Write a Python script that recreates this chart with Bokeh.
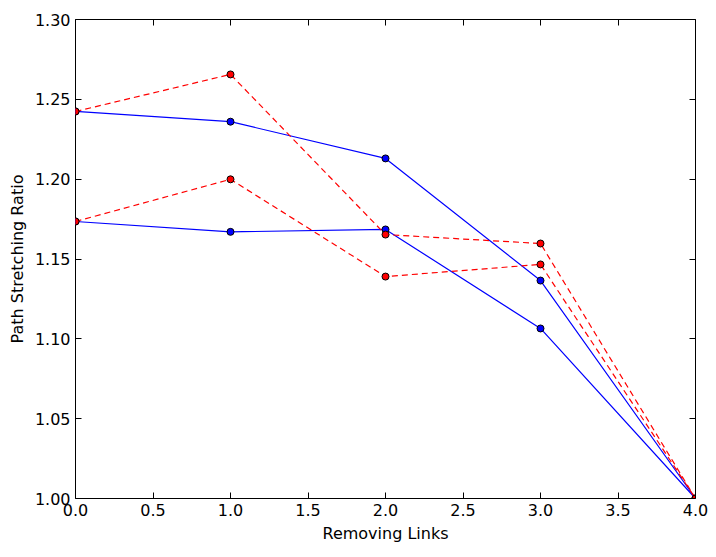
from bokeh.plotting import figure
from bokeh.models import Range1d, LinearAxis, FixedTicker, CustomJSTickFormatter
from bokeh.embed import file_html
from bokeh.resources import INLINE

links = [0, 1, 2, 3, 4]
blue_a = [1.2424, 1.236, 1.213, 1.1365, 1.0]
blue_b = [1.1735, 1.167, 1.1685, 1.1065, 1.0]
red_a = [1.2424, 1.2656, 1.1653, 1.1597, 1.0]
red_b = [1.1735, 1.1999, 1.139, 1.1466, 1.0]

p = figure(width=708, height=549, output_backend="svg", toolbar_location=None,
           x_range=Range1d(0, 4), y_range=Range1d(1.0, 1.3),
           min_border_left=75, min_border_right=13, min_border_top=19, min_border_bottom=51,
           x_axis_label="Removing Links", y_axis_label="Path Stretching Ratio")
p.grid.visible = False
p.outline_line_color = "black"
p.outline_line_width = 1

xt = [0, 0.5, 1, 1.5, 2, 2.5, 3, 3.5, 4]
yt = [1.0, 1.05, 1.1, 1.15, 1.2, 1.25, 1.3]
bottom = p.xaxis[0]
left = p.yaxis[0]
bottom.ticker = FixedTicker(ticks=xt)
left.ticker = FixedTicker(ticks=yt)
bottom.formatter = CustomJSTickFormatter(code="return tick.toFixed(1);")
left.formatter = CustomJSTickFormatter(code="return tick.toFixed(2);")

top = LinearAxis(ticker=FixedTicker(ticks=xt), major_label_text_alpha=0)
right = LinearAxis(ticker=FixedTicker(ticks=yt), major_label_text_alpha=0)
p.add_layout(top, "above")
p.add_layout(right, "right")
for ax in [bottom, left, top, right]:
    ax.major_tick_in = 6
    ax.major_tick_out = 0
    ax.minor_tick_line_color = None
    ax.axis_line_color = None
    ax.major_label_text_font = "DejaVu Sans"
    ax.major_label_text_font_size = "12pt"
    ax.axis_label_text_font = "DejaVu Sans"
    ax.axis_label_text_font_size = "12pt"
    ax.axis_label_text_font_style = "normal"
    ax.axis_label_text_color = "black"
    ax.major_label_text_color = "black"
top.major_label_text_font_size = "1pt"
right.major_label_text_font_size = "1pt"
top.major_label_standoff = 0
right.major_label_standoff = 0

for ys in [blue_a, blue_b]:
    p.line(links, ys, color="blue", line_width=1.2)
    p.scatter(links, ys, size=7, fill_color="blue", line_color="black")
for ys in [red_a, red_b]:
    p.line(links, ys, color="red", line_width=1.2, line_dash="6 4")
    p.scatter(links, ys, size=7, fill_color="red", line_color="black")

open("out.html", "w").write(file_html(p, INLINE))
